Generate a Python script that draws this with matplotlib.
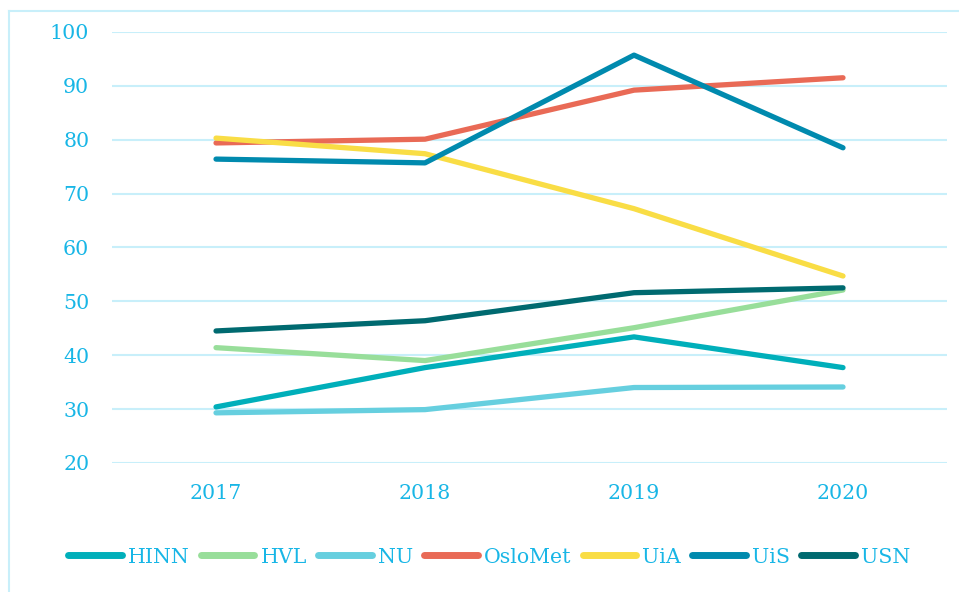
import matplotlib
matplotlib.use('Agg')
from matplotlib import pyplot as plt
from matplotlib.lines import Line2D

years = ['2017', '2018', '2019', '2020']

hinn = [30.4, 37.7, 43.4, 37.7]
hvl = [41.4, 39.0, 45.1, 52.1]
nu = [29.3, 29.9, 34.0, 34.1]
oslomet = [79.4, 80.1, 89.2, 91.5]
uia = [80.3, 77.4, 67.2, 54.7]
uis = [76.4, 75.7, 95.7, 78.5]
usn = [44.5, 46.4, 51.6, 52.5]

names = ['HINN', 'HVL', 'NU', 'OsloMet', 'UiA', 'UiS', 'USN']
series = [hinn, hvl, nu, oslomet, uia, uis, usn]
colors = ['#00AFBA', '#98DE9A', '#66CFDF', '#E96A56', '#F9DD45', '#008AAE', '#006A70']

textColor = '#18B6E6'
gridColor = '#C8EFFA'

plt.rcParams['font.family'] = ['DejaVu Serif']

fig = plt.figure(figsize=(9.59, 5.92), dpi=100)
ax = fig.add_axes([0.1163, 0.218, 0.988 - 0.1163, 0.946 - 0.218])

x = list(range(len(years)))
for name, values, color in zip(names, series, colors):
    ax.plot(x, values, color=color, lw=3.8, solid_capstyle='round',
            solid_joinstyle='round', label=name)

ax.set_xlim(-0.5, 3.5)
ax.set_ylim(20, 100)
ax.set_yticks(range(20, 101, 10))
ax.set_xticks(x)
ax.set_xticklabels(years)
ax.yaxis.grid(True, color=gridColor, lw=1.5)
ax.set_axisbelow(True)
for s in ax.spines.values():
    s.set_visible(False)
ax.tick_params(axis='both', length=0, colors=textColor, labelsize=14.8)
ax.tick_params(axis='y', pad=16)
ax.tick_params(axis='x', pad=15)

#legend handles are drawn a bit thicker than the lines
handles = [Line2D([0], [0], color=c, lw=5, solid_capstyle='round') for c in colors]
leg = fig.legend(handles, names, loc='center', bbox_to_anchor=(0.51, 0.059),
                 ncol=7, frameon=False, fontsize=14.8, handlelength=2.6,
                 handletextpad=0.3, columnspacing=0.55)
for t in leg.get_texts():
    t.set_color(textColor)

# light frame on top and left side of the figure
fig.add_artist(Line2D([9 / 959, 1], [1 - 11 / 592, 1 - 11 / 592], color=gridColor, lw=1.5,
                      transform=fig.transFigure))
fig.add_artist(Line2D([9 / 959, 9 / 959], [0, 1 - 11 / 592], color=gridColor, lw=1.5,
                      transform=fig.transFigure))

plt.savefig('out.png', dpi=100)
